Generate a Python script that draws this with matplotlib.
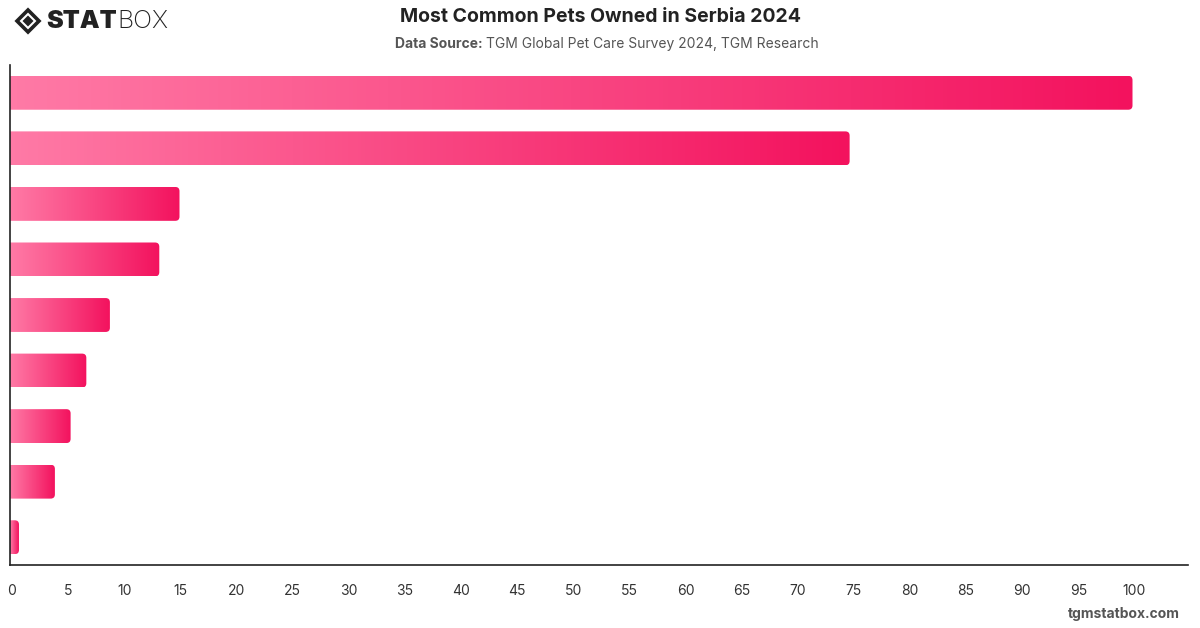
import numpy as np
import matplotlib.pyplot as plt
from matplotlib.patches import FancyBboxPatch, Polygon
from matplotlib.colors import LinearSegmentedColormap
from matplotlib.transforms import offset_copy

# values (no category labels shown in the chart)
pets = ['Pet 1', 'Pet 2', 'Pet 3', 'Pet 4', 'Pet 5', 'Pet 6', 'Pet 7', 'Pet 8', 'Pet 9']
share = [100, 74.8, 15.1, 13.3, 8.9, 6.8, 5.4, 4.0, 0.8]
xticks = list(range(0, 101, 5))

plt.rcParams['font.family'] = ['Inter', 'DejaVu Sans']

W, H = 1200, 628
fig = plt.figure(figsize=(12, 6.28), dpi=100)
ax = fig.add_axes([10 / W, 63 / H, 1178 / W, 500 / H])

cmap = LinearSegmentedColormap.from_list('pink', ['#ff7aa6', '#f3125e'])
grad = np.linspace(0, 1, 256).reshape(1, -1)

xmax = 1178 / 11.225
bh = 0.61
for i, v in enumerate(share):
    patch = FancyBboxPatch((-0.6, i - bh / 2), v + 0.6, bh,
                           boxstyle='round,pad=0,rounding_size=0.38',
                           mutation_aspect=0.2, facecolor='none',
                           edgecolor='none')
    ax.add_patch(patch)
    im = ax.imshow(grad, extent=[0, v, i + bh / 2, i - bh / 2],
                   cmap=cmap, aspect='auto', interpolation='bicubic')
    im.set_clip_path(patch)

ax.set_xlim(0, xmax)
ax.set_ylim(len(pets) - 0.5, -0.5)

ax.set_xticks(xticks)
ax.set_xticklabels([str(t) for t in xticks])
ax.set_yticks([])
ax.tick_params(axis='x', length=0, pad=14, labelsize=10, labelcolor='#333333')
for lbl in ax.get_xticklabels():
    lbl.set_transform(offset_copy(lbl.get_transform(), fig=fig, x=2, y=0, units='dots'))
for s in ['top', 'right']:
    ax.spines[s].set_visible(False)
for s in ['left', 'bottom']:
    ax.spines[s].set_color('#222222')
    ax.spines[s].set_linewidth(1.2)

# title and source
fig.text(0.5, 1 - 17 / H, 'Most Common Pets Owned in Serbia 2024',
         ha='center', va='center', fontsize=14, fontweight='bold', color='#222222')
fig.text(483 / W, 1 - 44 / H, 'Data Source:', ha='right', va='center',
         fontsize=10, fontweight='bold', color='#555555')
fig.text(486 / W, 1 - 44 / H, 'TGM Global Pet Care Survey 2024, TGM Research',
         ha='left', va='center', fontsize=10, color='#555555')

# logo
def px(x, y):
    return [x / W, 1 - y / H]

fig.patches.append(Polygon([px(17, 21), px(28, 10), px(39, 21), px(28, 32)], closed=True,
                           transform=fig.transFigure, facecolor='none',
                           edgecolor='#222222', linewidth=2.6))
fig.patches.append(Polygon([px(22.5, 21), px(28, 15.5), px(33.5, 21), px(28, 26.5)],
                           closed=True, transform=fig.transFigure,
                           facecolor='#222222', edgecolor='none'))
t_stat = fig.text(46 / W, 1 - 22 / H, 'STAT', ha='left', va='center', fontsize=18,
                  fontweight='black', color='#222222')
fig.canvas.draw()
bb = t_stat.get_window_extent()
fig.text(bb.x1 / W + 1 / W, 1 - 22 / H, 'BOX', ha='left', va='center', fontsize=18,
         fontweight='light', color='#222222')

fig.text(1180 / W, 1 - 614 / H, 'tgmstatbox.com', ha='right', va='center',
         fontsize=10, fontweight='bold', color='#555555')

fig.savefig('out.png', dpi=100)
